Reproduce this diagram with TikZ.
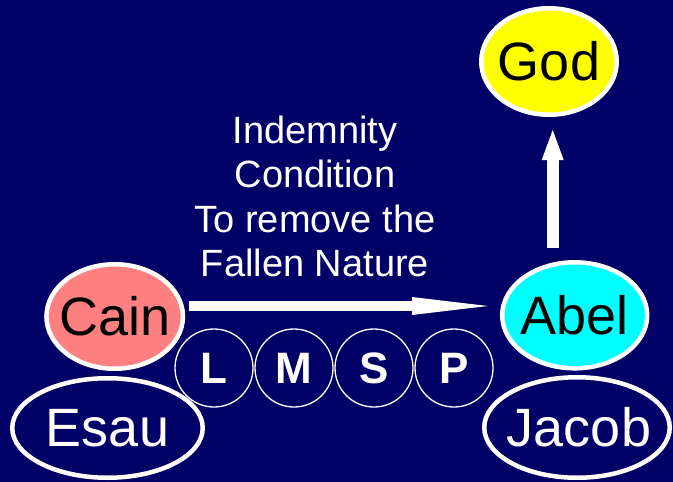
\documentclass[tikz,border=0pt]{standalone}
\usepackage{fontspec}
\setmainfont{Liberation Sans}
\usetikzlibrary{shapes.geometric,arrows.meta}
\definecolor{navy}{RGB}{0,0,102}
\definecolor{cainpink}{RGB}{255,128,128}
\definecolor{abelcyan}{RGB}{0,255,255}
\definecolor{godyellow}{RGB}{255,255,0}
\tikzset{
  oval/.style={ellipse, draw=white, line width=4.5pt, inner sep=0pt},
  nametext/.style={font=\fontsize{54}{60}\selectfont, inner sep=0pt},
  letterbox/.style={circle, draw=white, line width=1.3pt, minimum size=78pt, inner sep=0pt,
    text=white, font=\fontsize{44}{50}\selectfont\bfseries},
  bigarrowh/.style={draw=white, line width=10pt, -{Triangle[length=76pt,width=18pt,line width=0pt]}},
  bigarrowv/.style={draw=white, line width=12pt, -{Triangle[length=30pt,width=22pt,line width=0pt]}},
}
\begin{document}
\begin{tikzpicture}[x=1pt,y=-1pt]
\fill[navy] (0,0) rectangle (673,482);
\useasboundingbox (0,0) rectangle (673,482);

\node[oval, fill=godyellow, minimum width=135.5pt, minimum height=106.5pt] (god) at (549,61.5) {};
\node[nametext, text=black] (godt) at (god) {God};

\node[oval, fill=cainpink, minimum width=136.5pt, minimum height=104.5pt] (cain) at (114.7,316.5) {};
\node[nametext, text=black] (caint) at (cain) {Cain};

\node[oval, fill=abelcyan, minimum width=145pt, minimum height=106pt] (abel) at (574.7,315.3) {};
\node[nametext, text=black] (abelt) at (abel) {Abel};

\node[oval, minimum width=190.5pt, minimum height=99.5pt] (esau) at (107.5,428) {};
\node[nametext, text=white] (esaut) at (esau) {Esau};

\node[oval, minimum width=185.5pt, minimum height=100.5pt] (jacob) at (577,427.5) {};
\node[nametext, text=white] (jacobt) at ([xshift=2pt]jacob.center) {Jacob};

\node[letterbox] (l) at (214,368) {L};
\node[letterbox] (m) at (294,368) {M};
\node[letterbox] (s) at (374,368) {S};
\node[letterbox] (p) at (454,368) {P};

\node[align=center, text=white, font=\fontsize{38}{44.3}\selectfont, anchor=base, inner sep=0pt] (cond) at (315,276.5)
  {Indemnity\\Condition\\To remove the\\Fallen Nature};

\draw[bigarrowh, shorten <=4pt, shorten >=12pt]
  ([yshift=10.5pt]cain.east) -- ([yshift=10.5pt]cain.east -| abel.west);
\draw[bigarrowv, shorten <=12pt, shorten >=13pt]
  ([xshift=3.7pt]god.south |- abel.north) -- ([xshift=3.7pt]god.south);
\end{tikzpicture}
\end{document}
